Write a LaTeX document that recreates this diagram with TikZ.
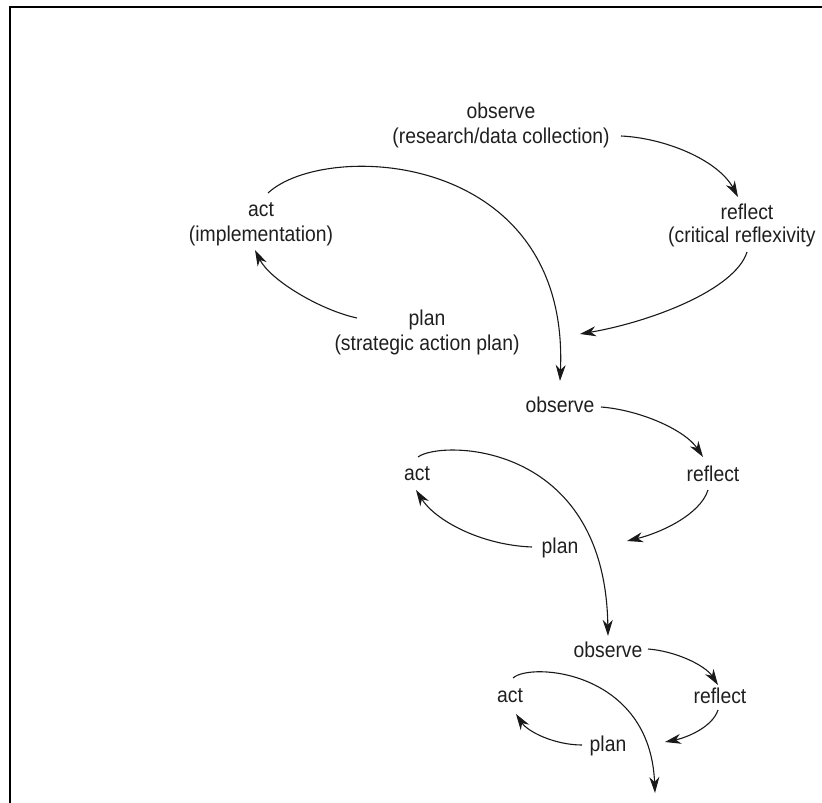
\documentclass[tikz,border=0pt]{standalone}
\usepackage{fontspec}
\setmainfont{Liberation Sans}[FakeStretch=0.9]
\usetikzlibrary{arrows.meta}
\begin{document}
\begin{tikzpicture}[x=1pt,y=1pt,
  lbl/.style={inner sep=0pt,align=center,text=black!88,font=\fontsize{21.5}{25}\selectfont},
  cyc/.style={draw=black!90,line width=1.1pt,-{Stealth[length=16pt,width=10pt,inset=5pt]}},
  frm/.style={draw=black,line width=2pt}]
\useasboundingbox (0,0) rectangle (822,-803);
\draw[frm] (10,-803) -- (10,-7) -- (822,-7);
% cycle 1
\node[lbl] (obs1) at (501,-125) {observe\\(research/data collection)};
\node[lbl] (act1) at (261,-224) {act\\(implementation)};
\node[lbl] (ref1) at (747,-212) {reflect};
\node[lbl,anchor=west] (ref1b) at (668,-237) {(critical reflexivity};
\node[lbl] (pln1) at (427,-332) {plan\\(strategic action plan)};
% cycle 2
\node[lbl] (obs2) at (560,-405) {observe};
\node[lbl] (act2) at (417,-474) {act};
\node[lbl] (ref2) at (713,-474) {reflect};
\node[lbl] (pln2) at (560,-548) {plan};
% cycle 3
\node[lbl] (obs3) at (608,-650) {observe};
\node[lbl] (act3) at (510,-696) {act};
\node[lbl] (ref3) at (720,-696) {reflect};
\node[lbl] (pln3) at (608,-746) {plan};
% connector end points
\coordinate (a1s) at (621,-136); \coordinate (a1e) at (738,-197);
\coordinate (b1s) at (747,-252); \coordinate (b1e) at (580,-334);
\coordinate (c1s) at (357,-318); \coordinate (c1e) at (255,-250);
\coordinate (d1s) at (268,-193);
\coordinate (a2s) at (601,-407); \coordinate (a2e) at (703,-457);
\coordinate (b2s) at (708,-490); \coordinate (b2e) at (627,-541);
\coordinate (c2s) at (532,-547); \coordinate (c2e) at (416,-490);
\coordinate (d2s) at (418,-457);
\coordinate (a3s) at (648,-649); \coordinate (a3e) at (718,-685);
\coordinate (b3s) at (718,-710); \coordinate (b3e) at (665,-742);
\coordinate (c3s) at (582,-745); \coordinate (c3e) at (516,-714);
\coordinate (d3s) at (513,-678); \coordinate (d3e) at (655,-793);
% cycle 1 arrows
\draw[cyc] (a1s) .. controls (665,-138) and (718,-160) .. (a1e);
\draw[cyc] (b1s) .. controls (735,-290) and (650,-322) .. (b1e);
\draw[cyc] (c1s) .. controls (320,-310) and (270,-280) .. (c1e);
\draw[cyc] (d1s) .. controls (325,-140) and (570,-150) .. ([yshift=16pt]obs2.north);
% cycle 2 arrows
\draw[cyc] (a2s) .. controls (640,-410) and (685,-430) .. (a2e);
\draw[cyc] (b2s) .. controls (700,-515) and (660,-533) .. (b2e);
\draw[cyc] (c2s) .. controls (480,-545) and (435,-520) .. (c2e);
\draw[cyc] (d2s) .. controls (440,-440) and (605,-440) .. ([yshift=6pt]obs3.north);
% cycle 3 arrows
\draw[cyc] (a3s) .. controls (675,-651) and (705,-665) .. (a3e);
\draw[cyc] (b3s) .. controls (712,-728) and (685,-738) .. (b3e);
\draw[cyc] (c3s) .. controls (555,-745) and (528,-732) .. (c3e);
\draw[cyc] (d3s) .. controls (530,-662) and (650,-670) .. (d3e);
\end{tikzpicture}
\end{document}
